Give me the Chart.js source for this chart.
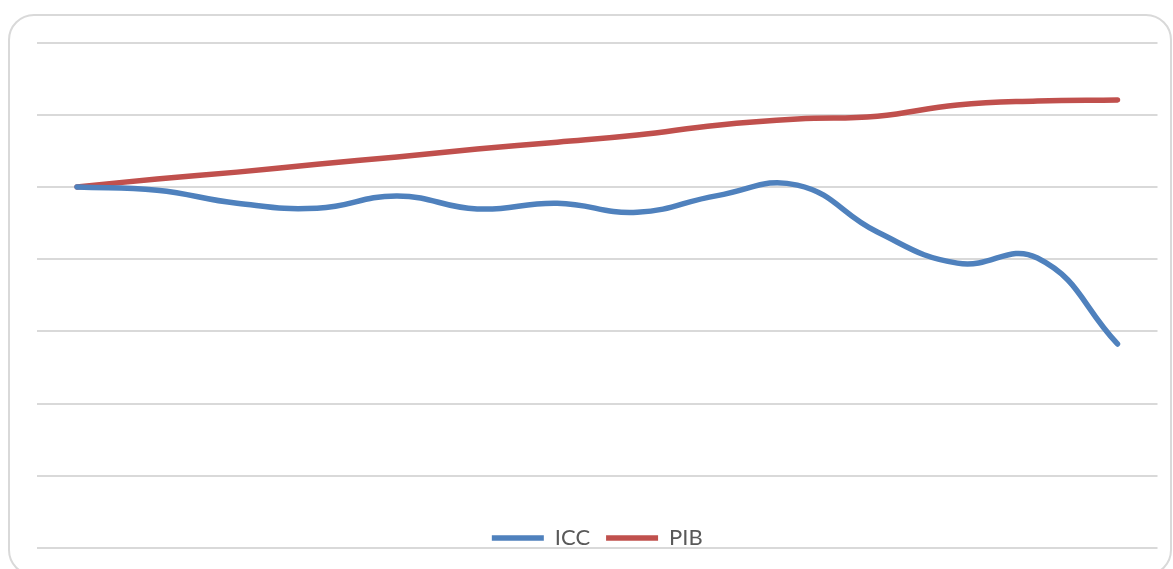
<!DOCTYPE html>
<html>
<head>
<meta charset="utf-8">
<script src="https://cdn.jsdelivr.net/npm/chart.js@4/dist/chart.umd.min.js"></script>
<style>
  html, body { margin: 0; padding: 0; background: #fff; overflow: hidden; }
  #frame {
    position: absolute; left: 8px; top: 14px; width: 1164px; height: 562px;
    border: 2px solid #d9d9d9; border-radius: 26px; box-sizing: border-box;
  }
  #wrap { position: absolute; left: 0; top: 0; width: 1173px; height: 569px; }
</style>
</head>
<body>
<div id="frame"></div>
<div id="wrap"><canvas id="chart"></canvas></div>
<script>
// periods (axis labels are not shown on the chart)
const periods = ['1', '2', '3', '4', '5', '6', '7', '8', '9', '10', '11', '12', '13', '14'];

// index values, first period = 100
const icc = [100, 99.1, 95.5, 94.1, 97.5, 93.9, 95.5, 93.0, 97.6, 100.5, 87.5, 78.9, 80.3, 56.5];
const pib = [100, 102.2, 104.1, 106.3, 108.3, 110.5, 112.4, 114.4, 117.1, 118.8, 119.6, 122.7, 123.8, 124.1];

// y axis range (gridlines only, no labels)
const yMin = 0;
const yMax = 140;
const yStep = 20;

// legend sits over the bottom of the plot area, like the original
const legendInside = {
  id: 'legendInside',
  afterLayout(chart) {
    const lg = chart.legend;
    const lift = 37;
    lg.top = chart.chartArea.bottom - lift;
    lg.height = lift + 20;
    lg.bottom = lg.top + lg.height;
  }
};

const ctx = document.getElementById('chart').getContext('2d');

new Chart(ctx, {
  type: 'line',
  data: {
    labels: periods,
    datasets: [
      {
        label: 'ICC',
        data: icc,
        borderColor: '#4F81BD',
        backgroundColor: '#4F81BD',
        borderWidth: 5.5,
        borderCapStyle: 'round',
        borderJoinStyle: 'round',
        pointRadius: 0,
        tension: 0.45
      },
      {
        label: 'PIB',
        data: pib,
        borderColor: '#C0504D',
        backgroundColor: '#C0504D',
        borderWidth: 5.5,
        borderCapStyle: 'round',
        borderJoinStyle: 'round',
        pointRadius: 0,
        tension: 0.45
      }
    ]
  },
  options: {
    responsive: true,
    maintainAspectRatio: false,
    animation: false,
    layout: {
      padding: { left: 37, right: 15.5, top: 42.5, bottom: 21 }
    },
    scales: {
      x: {
        display: false,
        offset: true
      },
      y: {
        min: yMin,
        max: yMax,
        ticks: { display: false, stepSize: yStep },
        border: { display: false },
        grid: { color: '#d9d9d9', lineWidth: 2, drawTicks: false }
      }
    },
    plugins: {
      legend: {
        position: 'bottom',
        maxHeight: 0.001,
        labels: {
          usePointStyle: true,
          pointStyle: 'line',
          pointStyleWidth: 52,
          boxWidth: 52,
          padding: 16,
          color: '#595959',
          font: { family: 'Lato', size: 22 }
        }
      },
      tooltip: { enabled: false }
    }
  },
  plugins: [legendInside]
});
</script>
</body>
</html>
